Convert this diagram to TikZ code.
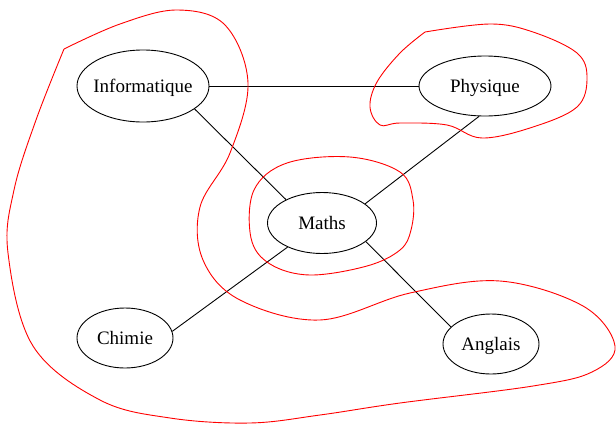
\documentclass[tikz,border=0pt]{standalone}
\usepackage{fontspec}
\setmainfont{Liberation Serif}
\usepackage{xcolor}
\usepackage{tikz}
\usetikzlibrary{positioning,shapes.geometric}
\tikzset{
    matiere/.style={ellipse, draw, line width=0.9pt, inner xsep=-6pt, inner ysep=0pt, text height=13pt, text depth=0pt, font=\fontsize{19}{23}\selectfont},
    lien/.style={line width=0.9pt, color=black},
    groupe/.style={line width=0.9pt, color=red}
}
\begin{document}
\begin{tikzpicture}[x=1pt, y=-1pt]
\useasboundingbox (0,0) rectangle (616,426);

\node[matiere, minimum width=132pt, minimum height=72pt] (info) at (143,86) {Informatique};
\node[matiere, minimum width=132pt, minimum height=60pt] (phys) at (485,86) {Physique};
\node[matiere, minimum width=109pt, minimum height=61pt] (maths) at (322,223) {Maths};
\node[matiere, minimum width=96pt, minimum height=60pt] (chimie) at (125,338) {Chimie};
\node[matiere, minimum width=96pt, minimum height=60pt] (anglais) at (491,344) {Anglais};

\draw[lien] (info.east) -- (phys.west);
\draw[lien] (info.-24) -- (maths.147);
\draw[lien] (phys.259) -- (maths.24);
\draw[lien] (maths.215) -- (chimie.8);
\draw[lien] (maths.-23) -- (anglais.157);

% regroupements
\draw[groupe] plot[smooth, tension=0.6] coordinates {(64,49) (120,24) (177,10) (225,25) (248,83) (230,153) (200,207) (203,260) (240,300) (320,320) (410,293) (500,281) (583,306) (615,346) (592,372) (533,386) (400,403) (320,415) (250,423) (170,418) (100,400) (33,346) (8,253) (14,190) (36,120) (64,49)};
\draw[groupe] plot[smooth, tension=0.6] coordinates {(425,32) (490,24) (533,32) (577,53) (587,78) (577,107) (533,127) (482,138) (447,125) (400,123) (380,125) (370,107) (377,82) (400,53) (425,32)};
\draw[groupe] plot[smooth cycle, tension=0.6] coordinates {(287,163) (350,157) (400,172) (413,200) (411,230) (400,250) (367,266) (310,275) (270,264) (251,238) (254,190)};

\end{tikzpicture}
\end{document}
